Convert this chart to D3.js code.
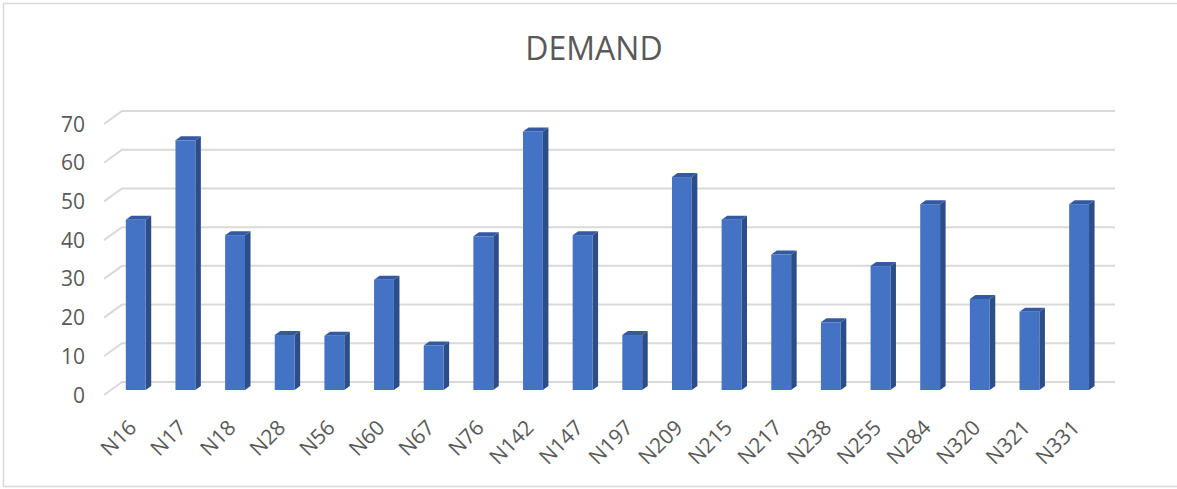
<!DOCTYPE html>
<html>
<head>
<meta charset="utf-8">
<script src="https://cdn.jsdelivr.net/npm/d3@7"></script>
<style>
  html, body { margin: 0; padding: 0; background: #fff; }
  svg { display: block; }
</style>
</head>
<body>
<svg id="chart" width="1177" height="489"></svg>
<script>
// Demand per node
const categories = ["N16","N17","N18","N28","N56","N60","N67","N76","N142","N147",
                    "N197","N209","N215","N217","N238","N255","N284","N320","N321","N331"];
const demand = [44, 64.5, 40, 14.2, 14, 28.5, 11.5, 39.7, 66.8, 40,
                14.2, 55, 44, 35, 17.5, 32, 48, 23.5, 20.2, 48];
const yTicks = [0, 10, 20, 30, 40, 50, 60, 70];
const chartTitle = "DEMAND";

const svg = d3.select("#chart");
const W = 1177, H = 489;
const font = "'Open Sans', 'Noto Sans', sans-serif";
const textColor = "#595959";
const gridColor = "#d9d9d9";

// chart area border
svg.append("rect")
  .attr("x", 3.5).attr("y", 3.5)
  .attr("width", W + 10).attr("height", 483)
  .attr("fill", "#fff").attr("stroke", "#d9d9d9").attr("stroke-width", 1.5);

// title
svg.append("text")
  .attr("x", 594).attr("y", 60)
  .attr("text-anchor", "middle")
  .attr("font-family", font).attr("font-size", 32)
  .attr("fill", textColor)
  .text(chartTitle);

// oblique 3D projection: front plane and the wall behind it
const depthX = 18, depthY = 13;
const front = { left: 104, right: 1097 };

const x = d3.scaleBand().domain(categories).range([front.left, front.right]).padding(0);
const y = d3.scaleLinear().domain([0, 70]).range([395, 124]);

// gridlines: short diagonal on the side wall and long line on the back wall
const grid = svg.append("g");
yTicks.forEach(t => {
  grid.append("path")
    .attr("d", `M${front.left},${y(t)} L${front.left + depthX},${y(t) - depthY} L${front.right + depthX},${y(t) - depthY}`)
    .attr("fill", "none").attr("stroke", gridColor).attr("stroke-width", 2);
});

// y-axis labels
svg.append("g").selectAll("text").data(yTicks).join("text")
  .attr("x", 85).attr("y", d => y(d))
  .attr("dy", "0.36em")
  .attr("text-anchor", "end")
  .attr("font-family", font).attr("font-size", 21)
  .attr("fill", textColor)
  .text(d => d);

// bars sit in the middle of the floor depth
const barFrontD = 5 / 13, barDepthD = 4 / 13;
const barW = x.step() * 0.4;
const bx = d => x(categories[d]) + (x.step() - barW) / 2 + depthX * barFrontD;
const offY = depthY * barFrontD;
const sx = depthX * barDepthD, sy = depthY * barDepthD;

const bars = svg.append("g");
demand.forEach((v, i) => {
  const x0 = bx(i), x1 = x0 + barW;
  const yb = y(0) - offY, yt = y(v) - offY;
  // side face
  bars.append("path")
    .attr("d", `M${x1},${yt} L${x1 + sx},${yt - sy} L${x1 + sx},${yb - sy} L${x1},${yb} Z`)
    .attr("fill", "#2c4d87");
  // top face
  bars.append("path")
    .attr("d", `M${x0},${yt} L${x1},${yt} L${x1 + sx},${yt - sy} L${x0 + sx},${yt - sy} Z`)
    .attr("fill", "#3559a0");
  // front face
  bars.append("rect")
    .attr("x", x0).attr("y", yt)
    .attr("width", barW).attr("height", yb - yt)
    .attr("fill", "#4472c4");
});

// category labels, rotated
svg.append("g").selectAll("text").data(categories).join("text")
  .attr("transform", (d, i) => `translate(${bx(i) + barW / 2 + 2},${429}) rotate(-45)`)
  .attr("text-anchor", "end")
  .attr("font-family", font).attr("font-size", 21)
  .attr("fill", textColor)
  .text(d => d);
</script>
</body>
</html>
